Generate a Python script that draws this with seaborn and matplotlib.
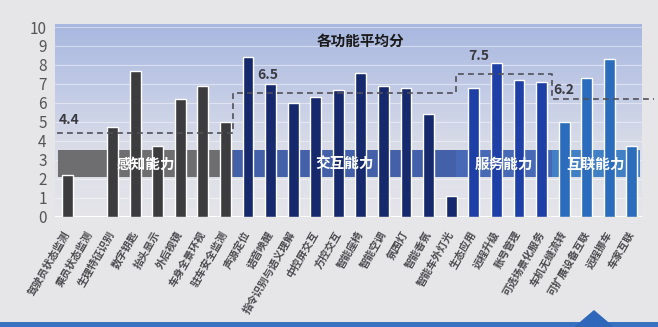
import numpy as np
import pandas as pd
import matplotlib
matplotlib.use("Agg")
import matplotlib.pyplot as plt
import seaborn as sns
from matplotlib.patches import Rectangle, Polygon
from matplotlib.colors import LinearSegmentedColormap

# ---- data -------------------------------------------------------------
features = [
    "驾驶员状态监测", "乘员状态监测", "生理特征识别", "数字钥匙", "抬头显示",
    "外后视镜", "车身全景环视", "驻车安全监测",
    "声源定位", "语音唤醒", "指令识别与语义理解", "中控屏交互", "方控交互",
    "智能座椅", "智能空调", "氛围灯", "智能香氛", "智能车外灯光",
    "生态应用", "远程升级", "账号管理", "可选场景化服务",
    "车机无缝流转", "可扩展设备互联", "远程挪车", "车家互联",
]
scores = [
    2.2, 0.0, 4.7, 7.7, 3.7, 6.2, 6.9, 5.0,
    8.4, 7.0, 6.0, 6.3, 6.7, 7.6, 6.9, 6.8, 5.4, 1.1,
    6.8, 8.1, 7.2, 7.1,
    5.0, 7.3, 8.3, 3.7,
]
group_names = ["感知能力", "交互能力", "服务能力", "互联能力"]
group_sizes = [8, 10, 4, 4]
group_avgs = [4.4, 6.5, 7.5, 6.2]
yticks = list(range(0, 11))
title = "各功能平均分"

groups = [g for g, n in zip(group_names, group_sizes) for _ in range(n)]
df = pd.DataFrame({"feature": features, "score": scores, "group": groups})

# ---- style ------------------------------------------------------------
bar_colors = dict(zip(group_names, ["#3c3c3f", "#16296c", "#1d3fa6", "#2b6cbc"]))
band_colors = ["#6e6e70", "#4360a8", "#4869b6", "#4180c4"]
band_edges = [-0.4, 7.35, 17.2, 21.46, 25.35]
avg_label_dx = [0.05, 1.05, 0.55, 0.05]
avg_label_dy = [0.7, 0.97, 0.97, 0.48]

sns.set_style("white")
plt.rcParams["font.family"] = ["Noto Sans CJK SC", "DejaVu Sans"]

fig = plt.figure(figsize=(6.58, 3.27), dpi=100, facecolor="#e6e6e9")
ax = fig.add_axes([55 / 658, 1 - 216.5 / 327, 587 / 658, 192.3 / 327])

xlim = (-0.55, 25.45)
ylim = (0, 10.15)

# gradient panel behind the chart
grad_cmap = LinearSegmentedColormap.from_list(
    "panel", [(0.0, "#a7b7df"), (0.35, "#c2cbe6"), (0.65, "#dadde8"), (1.0, "#e5e5ea")]
)
ax.imshow(np.linspace(0, 1, 256).reshape(-1, 1), cmap=grad_cmap, aspect="auto",
          extent=[xlim[0], xlim[1], ylim[0], ylim[1]], zorder=0)
for y in yticks:
    ax.axhline(y, color="white", alpha=0.45, lw=0.8, zorder=0.5)

# group bands
for i, name in enumerate(group_names):
    x0, x1 = band_edges[i], band_edges[i + 1]
    ax.add_patch(Rectangle((x0, 2.1), x1 - x0, 1.4, facecolor=band_colors[i],
                           edgecolor="none", zorder=2))
    ax.text((x0 + x1) / 2, 2.8, name, ha="center", va="center", fontsize=10.5,
            fontweight="bold", color="white", zorder=5)

sns.barplot(data=df, x="feature", y="score", hue="group", palette=bar_colors,
            dodge=False, width=0.48, saturation=1, legend=False, ax=ax, zorder=3)

# stepped average line
xs, ys = [-0.45], [group_avgs[0]]
for i in range(len(group_avgs)):
    xe = band_edges[i + 1] if i < len(group_avgs) - 1 else 26.0
    xs += [xe]
    ys += [group_avgs[i]]
    if i < len(group_avgs) - 1:
        xs += [xe]
        ys += [group_avgs[i + 1]]
ax.plot(xs, ys, ls=(0, (3.5, 2.5)), color="#505058", lw=1.2, zorder=4, clip_on=False)

for i, avg in enumerate(group_avgs):
    x0 = -0.45 if i == 0 else band_edges[i]
    ax.text(x0 + avg_label_dx[i], avg + avg_label_dy[i], f"{avg:.1f}", ha="left",
            va="center", fontsize=10, fontweight="bold", color="#3a3a40", zorder=5)

ax.text(13.0, 9.26, title, ha="center", va="center", fontsize=10.5,
        fontweight="bold", color="#1a1a1a", zorder=5)

ax.set_xlim(*xlim)
ax.set_ylim(*ylim)
ax.set_yticks(yticks)
ax.set_yticklabels([str(t) for t in yticks], fontsize=11, color="#555558")
ax.set_xticks(range(len(features)))
ax.set_xticklabels(features, rotation=60, ha="right", va="center",
                   rotation_mode="anchor", fontsize=7.5, fontweight="bold",
                   color="#4a4a4e")
ax.tick_params(axis="x", length=0, pad=11)
ax.tick_params(axis="y", length=0, pad=6)
ax.set_xlabel("")
ax.set_ylabel("")
for s in ax.spines.values():
    s.set_visible(False)

# slide footer strip and marker
fig.patches.append(Rectangle((0, 0), 1, 5 / 327, transform=fig.transFigure,
                             facecolor="#3a72c2", edgecolor="none"))
fig.patches.append(Polygon([(574 / 658, 0), (614 / 658, 0), (594 / 658, 17 / 327)],
                           closed=True, transform=fig.transFigure,
                           facecolor="#2f68bb", edgecolor="none"))

fig.savefig("out.png", dpi=100, facecolor=fig.get_facecolor())
